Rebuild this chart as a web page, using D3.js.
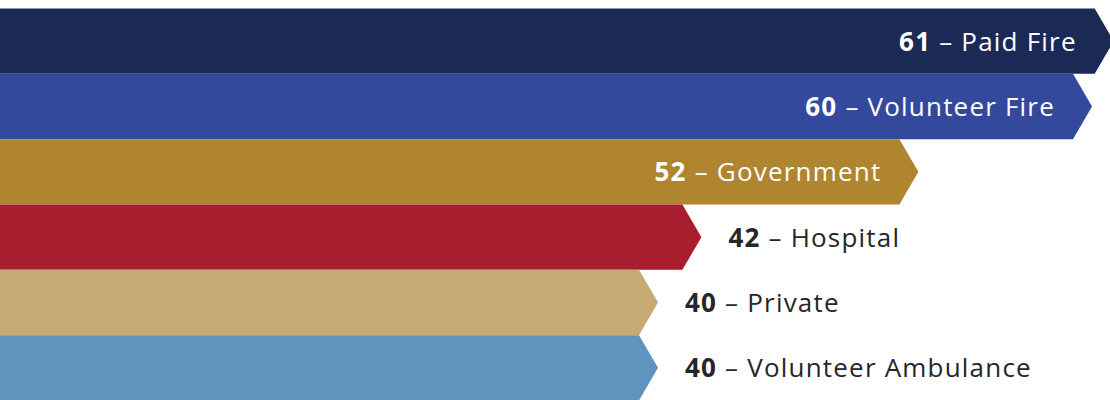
<!DOCTYPE html>
<html>
<head>
<meta charset="utf-8">
<script src="https://cdn.jsdelivr.net/npm/d3@7"></script>
<style>
  body { margin: 0; background: #fff; }
  svg { display: block; }
</style>
</head>
<body>
<svg id="chart"></svg>
<script>
var categories = ["Paid Fire", "Volunteer Fire", "Government", "Hospital", "Private", "Volunteer Ambulance"]
var values = [61, 60, 52, 42, 40, 40]
var colors = ["#1b2955", "#33499b", "#b08530", "#a81e2f", "#c6a973", "#5e94bd"]
// first three labels sit inside their bar
var inside = [true, true, true, false, false, false]

var dimensions = {
    width: 1110,
    height: 400,
    margin: { top: 8.5, bottom: 0, left: 0, right: 0 }
}

var svg = d3.select("#chart")
    .attr("width", dimensions.width)
    .attr("height", dimensions.height)

var data = categories.map(function(c, i) {
    return { name: c, value: values[i], color: colors[i], inside: inside[i] }
})

var yScale = d3.scaleBand()
    .domain(categories)
    .range([dimensions.margin.top, dimensions.height + 0.5])
    .padding(0)

// tip of the arrow, in pixels
var xScale = d3.scaleLinear()
    .domain([40, 60])
    .range([658, 1092])

var notch = 19

var arrow = function(d) {
    var y = yScale(d.name)
    var h = yScale.bandwidth()
    var tip = xScale(d.value)
    return "M0," + y +
        "L" + (tip - notch) + "," + y +
        "L" + tip + "," + (y + h / 2) +
        "L" + (tip - notch) + "," + (y + h) +
        "L0," + (y + h) + "Z"
}

svg.append("g")
    .selectAll("path")
    .data(data)
    .enter()
    .append("path")
    .attr("d", arrow)
    .attr("fill", d => d.color)

var labels = svg.append("g")
    .selectAll("text")
    .data(data)
    .enter()
    .append("text")
    .attr("x", d => d.inside ? xScale(d.value) - 37 : xScale(d.value) + 27)
    .attr("y", d => yScale(d.name) + yScale.bandwidth() / 2 + 9.5)
    .attr("text-anchor", d => d.inside ? "end" : "start")
    .attr("fill", d => d.inside ? "#ffffff" : "#262626")
    .style("font-family", "'Open Sans', sans-serif")
    .style("font-size", "26px")
    .style("letter-spacing", "1.2px")

labels.append("tspan")
    .style("font-weight", "bold")
    .text(d => d.value)

labels.append("tspan")
    .text(d => " \u2013 " + d.name)
</script>
</body>
</html>
